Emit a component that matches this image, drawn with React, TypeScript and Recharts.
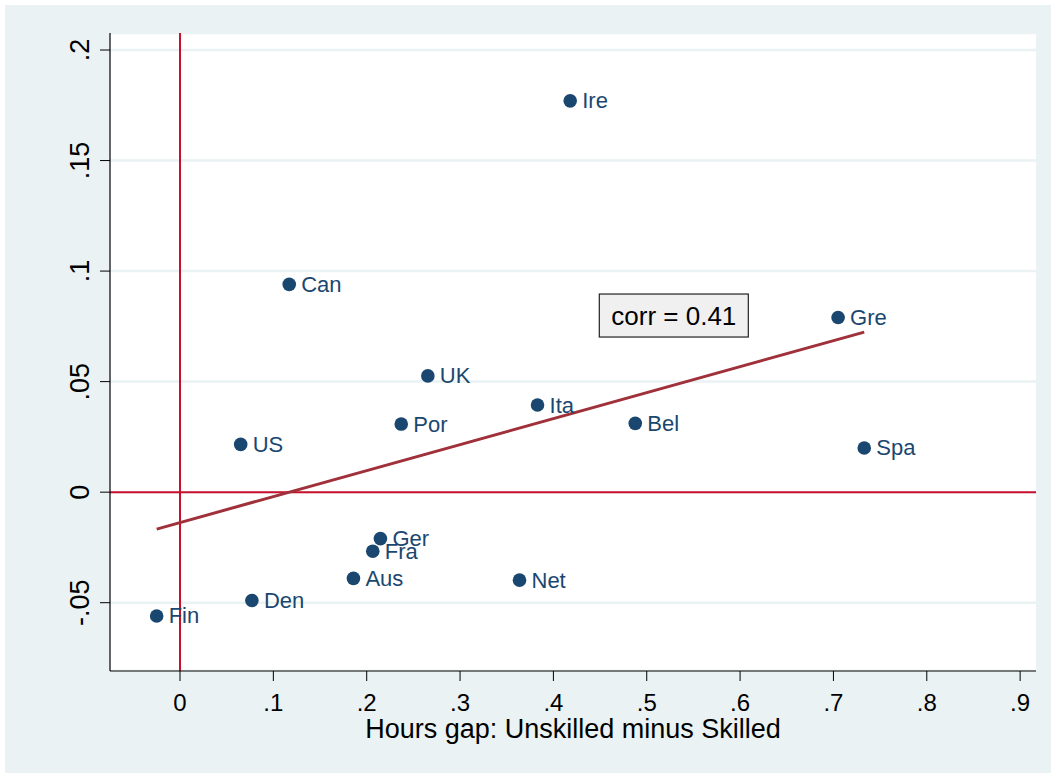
import React from "react"
import {
  ScatterChart,
  Scatter,
  XAxis,
  YAxis,
  CartesianGrid,
  ReferenceLine,
  ReferenceDot,
  Label
} from "recharts"

const FONT = "'Liberation Sans', Arial, sans-serif"
const NAVY = "#1a476f"
const RED = "#c8102e"
const FIT = "#a0303a"
const BG = "#eaf2f3"

// countries
const countries = ["Ire", "Can", "Gre", "UK", "Ita", "Por", "Bel", "US", "Spa", "Ger", "Fra", "Aus", "Net", "Den", "Fin"]
const hoursGap = [0.418, 0.117, 0.705, 0.2655, 0.383, 0.237, 0.4877, 0.065, 0.733, 0.2147, 0.2065, 0.1858, 0.3637, 0.077, -0.025]
const outcome = [0.177, 0.094, 0.079, 0.0526, 0.0394, 0.0308, 0.0311, 0.0216, 0.02, -0.021, -0.0267, -0.039, -0.0398, -0.049, -0.056]

// fitted line end points
const fitX = [-0.025, 0.733]
const fitY = [-0.0167, 0.0724]

const xTicks = [0, 0.1, 0.2, 0.3, 0.4, 0.5, 0.6, 0.7, 0.8, 0.9]
const xTickLabels = ["0", ".1", ".2", ".3", ".4", ".5", ".6", ".7", ".8", ".9"]
const yTicks = [-0.05, 0, 0.05, 0.1, 0.15, 0.2]
const yTickLabels = ["-.05", "0", ".05", ".1", ".15", ".2"]

const corrText = "corr = 0.41"
const corrPos = { x: 0.529, y: 0.0799 }

const points = countries.map((name, i) => ({ name, x: hoursGap[i], y: outcome[i] }))

function XTick(props: any) {
  const { x, y, index } = props
  return (
    <text x={x} y={y + 28} textAnchor="middle" fontFamily={FONT} fontSize={24} fill="#000">
      {xTickLabels[index]}
    </text>
  )
}

function YTick(props: any) {
  const { x, y, index } = props
  const bx = x - 9
  return (
    <text
      x={bx}
      y={y}
      transform={`rotate(-90, ${bx}, ${y})`}
      textAnchor="middle"
      fontFamily={FONT}
      fontSize={27}
      fill="#000"
    >
      {yTickLabels[index]}
    </text>
  )
}

function CountryDot(props: any) {
  const { cx, cy, payload } = props
  return (
    <g>
      <circle cx={cx} cy={cy} r={6.8} fill={NAVY} />
      <text x={cx + 12} y={cy + 7.5} fontFamily={FONT} fontSize={22} fill={NAVY}>
        {payload.name}
      </text>
    </g>
  )
}

function CorrBox(props: any) {
  const { cx, cy } = props
  const w = 149
  const h = 43
  return (
    <g>
      <rect x={cx - w / 2} y={cy - h / 2} width={w} height={h} fill="#f0f0f0" stroke="#222" strokeWidth={1.2} />
      <text x={cx} y={cy + 9.5} textAnchor="middle" fontFamily={FONT} fontSize={26} fill="#000">
        {corrText}
      </text>
    </g>
  )
}

function XTitle(props: any) {
  const vb = props.viewBox
  return (
    <text
      x={vb.x + vb.width / 2}
      y={vb.y + 67}
      textAnchor="middle"
      fontFamily={FONT}
      fontSize={27}
      fill="#000"
    >
      Hours gap: Unskilled minus Skilled
    </text>
  )
}

export default function App() {
  return (
    <div style={{ position: "absolute", left: 5, top: 5, width: 1046, height: 768, background: BG }}>
      <ScatterChart width={1046} height={768} margin={{ top: 28, right: 15, bottom: 0, left: 0 }}>
        <CartesianGrid vertical={false} fill="#fff" stroke={BG} strokeWidth={2.5} />
        <XAxis
          type="number"
          dataKey="x"
          domain={[-0.075, 0.917]}
          ticks={xTicks}
          allowDataOverflow
          height={102}
          tickSize={10}
          stroke="#000"
          tick={<XTick />}
          tickLine={{ stroke: "#000" }}
          axisLine={{ stroke: "#000", strokeWidth: 1.2 }}
        >
          <Label content={<XTitle />} />
        </XAxis>
        <YAxis
          type="number"
          dataKey="y"
          domain={[-0.0809, 0.2077]}
          ticks={yTicks}
          allowDataOverflow
          width={105}
          tickSize={10}
          stroke="#000"
          tick={<YTick />}
          tickLine={{ stroke: "#000" }}
          axisLine={{ stroke: "#000", strokeWidth: 1.2 }}
        />
        <ReferenceLine y={0} stroke={RED} strokeWidth={2} />
        <ReferenceLine x={0} stroke={RED} strokeWidth={2} />
        <ReferenceLine
          segment={[
            { x: fitX[0], y: fitY[0] },
            { x: fitX[1], y: fitY[1] }
          ]}
          stroke={FIT}
          strokeWidth={3}
        />
        <Scatter data={points} shape={<CountryDot />} isAnimationActive={false} />
        <ReferenceDot x={corrPos.x} y={corrPos.y} shape={<CorrBox />} />
      </ScatterChart>
    </div>
  )
}
